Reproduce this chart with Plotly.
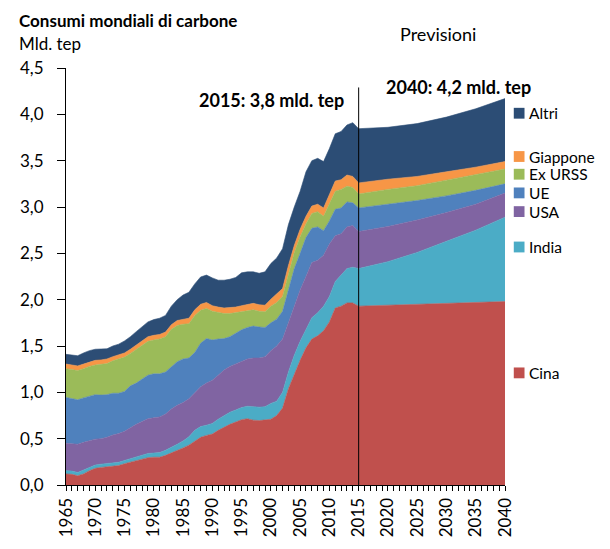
import plotly.graph_objects as go

# ---------------- data ----------------
years = list(range(1965, 2016)) + [2020, 2025, 2030, 2035, 2040]

cina = [0.12, 0.115, 0.10, 0.12, 0.155, 0.18, 0.19, 0.195, 0.20, 0.21,
        0.23, 0.245, 0.26, 0.28, 0.295, 0.30, 0.30, 0.32, 0.345, 0.375,
        0.40, 0.43, 0.475, 0.515, 0.535, 0.55, 0.59, 0.625, 0.655, 0.68,
        0.705, 0.715, 0.70, 0.695, 0.70, 0.71, 0.75, 0.83, 1.04, 1.20,
        1.345, 1.48, 1.575, 1.61, 1.665, 1.76, 1.91, 1.93, 1.965, 1.965,
        1.93,
        1.94, 1.95, 1.96, 1.97, 1.98]

india = [0.035, 0.035, 0.035, 0.04, 0.035, 0.035, 0.035, 0.035, 0.04, 0.035,
         0.035, 0.04, 0.04, 0.045, 0.045, 0.045, 0.05, 0.055, 0.06, 0.065,
         0.075, 0.09, 0.115, 0.115, 0.11, 0.115, 0.12, 0.125, 0.13, 0.13,
         0.13, 0.135, 0.145, 0.145, 0.145, 0.17, 0.155, 0.17, 0.18, 0.20,
         0.205, 0.20, 0.23, 0.25, 0.265, 0.275, 0.285, 0.335, 0.37, 0.385,
         0.405,
         0.47, 0.56, 0.67, 0.78, 0.91]

usa = [0.295, 0.295, 0.305, 0.30, 0.29, 0.28, 0.275, 0.285, 0.30, 0.31,
       0.315, 0.335, 0.355, 0.36, 0.375, 0.38, 0.385, 0.39, 0.415, 0.42,
       0.415, 0.41, 0.41, 0.43, 0.455, 0.465, 0.475, 0.49, 0.495, 0.495,
       0.50, 0.51, 0.525, 0.53, 0.54, 0.57, 0.595, 0.575, 0.53, 0.53,
       0.555, 0.57, 0.595, 0.565, 0.55, 0.565, 0.495, 0.445, 0.45, 0.45,
       0.40,
       0.38, 0.35, 0.31, 0.28, 0.26]

ue = [0.495, 0.49, 0.48, 0.48, 0.48, 0.48, 0.47, 0.46, 0.45, 0.435,
      0.43, 0.45, 0.445, 0.455, 0.47, 0.475, 0.465, 0.455, 0.45, 0.47,
      0.47, 0.44, 0.43, 0.47, 0.48, 0.435, 0.39, 0.34, 0.32, 0.335,
      0.34, 0.34, 0.345, 0.335, 0.315, 0.30, 0.29, 0.30, 0.355, 0.405,
      0.395, 0.42, 0.37, 0.36, 0.265, 0.25, 0.285, 0.28, 0.27, 0.245,
      0.255,
      0.24, 0.21, 0.18, 0.15, 0.10]

ex_urss = [0.31, 0.31, 0.315, 0.315, 0.32, 0.32, 0.33, 0.335, 0.35, 0.37,
           0.37, 0.35, 0.365, 0.37, 0.365, 0.365, 0.375, 0.38, 0.41, 0.39,
           0.375, 0.37, 0.40, 0.355, 0.325, 0.31, 0.285, 0.27, 0.25, 0.22,
           0.195, 0.18, 0.175, 0.17, 0.17, 0.18, 0.18, 0.16, 0.175, 0.175,
           0.18, 0.15, 0.16, 0.165, 0.155, 0.195, 0.195, 0.20, 0.17, 0.165,
           0.15,
           0.16, 0.16, 0.17, 0.17, 0.16]

giappone = [0.05, 0.05, 0.05, 0.05, 0.045, 0.05, 0.05, 0.05, 0.045, 0.045,
            0.045, 0.045, 0.045, 0.045, 0.05, 0.05, 0.05, 0.05, 0.05, 0.055,
            0.055, 0.06, 0.06, 0.065, 0.065, 0.06, 0.06, 0.06, 0.065, 0.06,
            0.065, 0.07, 0.07, 0.07, 0.07, 0.075, 0.09, 0.085, 0.09, 0.075,
            0.08, 0.08, 0.08, 0.08, 0.09, 0.09, 0.11, 0.105, 0.12, 0.12,
            0.12,
            0.11, 0.10, 0.09, 0.08, 0.08]

altri = [0.105, 0.11, 0.11, 0.12, 0.125, 0.12, 0.115, 0.11, 0.115, 0.115,
         0.13, 0.135, 0.145, 0.155, 0.16, 0.17, 0.175, 0.18, 0.20, 0.225,
         0.26, 0.28, 0.28, 0.295, 0.295, 0.30, 0.29, 0.30, 0.305, 0.32,
         0.355, 0.35, 0.34, 0.34, 0.36, 0.385, 0.39, 0.43, 0.44, 0.415,
         0.41, 0.48, 0.49, 0.495, 0.50, 0.495, 0.51, 0.52, 0.54, 0.58,
         0.585,
         0.56, 0.57, 0.59, 0.63, 0.68]

series_names = ["Cina", "India", "USA", "UE", "Ex URSS", "Giappone", "Altri"]
series_values = [cina, india, usa, ue, ex_urss, giappone, altri]
series_colors = ["#C0504D", "#4BACC6", "#8064A2", "#4F81BD",
                 "#9BBB59", "#F79646", "#2C4D75"]

x_tick_years = list(range(1965, 2041, 5))
y_ticks = [0, 0.5, 1.0, 1.5, 2.0, 2.5, 3.0, 3.5, 4.0, 4.5]

title_text = "Consumi mondiali di carbone"
unit_text = "Mld. tep"
forecast_text = "Previsioni"
note_2015 = "2015: 3,8 mld. tep"
note_2040 = "2040: 4,2 mld. tep"
forecast_start = 2015

# ---------------- layout geometry ----------------
OFF = 8                      # page body margin of the browser
W, H = 610 - OFF, 549 - OFF
L, R, T, B = 55 - OFF, 105, 68 - OFF, 57
PW, PH = W - L - R, H - T - B
FONT = "Lato"


def px(x, y):
    """window pixel -> paper coordinates"""
    return (x - OFF - L) / PW, (H - B - (y - OFF)) / PH


fig = go.Figure()
for name, vals, col in zip(series_names, series_values, series_colors):
    fig.add_trace(go.Scatter(
        x=years, y=vals, name=name, mode="lines", stackgroup="one",
        line=dict(width=0.6, color=col), fillcolor=col,
        showlegend=False, hoverinfo="x+y+name"))

annotations = []
shapes = []


def text(x, y, s, size=16, bold=False, xanchor="left", yanchor="middle"):
    xp, yp = px(x, y)
    annotations.append(dict(
        x=xp, y=yp, xref="paper", yref="paper", showarrow=False,
        text=f"<b>{s}</b>" if bold else s, xanchor=xanchor, yanchor=yanchor,
        borderpad=0,
        font=dict(family=FONT, size=size, color="black")))


text(6, 8.5, title_text, size=17, bold=True, yanchor="top")
text(6, 43, unit_text, size=17)
text(436, 33, forecast_text, size=18, xanchor="center")
text(341, 101, note_2015, size=18, bold=True, xanchor="right")
text(382, 87, note_2040, size=18, bold=True)

# legend (custom positions next to the layers)
legend_y = {"Altri": 114, "Giappone": 158, "Ex URSS": 176, "UE": 195,
            "USA": 214, "India": 250, "Cina": 378}
for name, col in zip(series_names, series_colors):
    yc = legend_y[name]
    x0, y0 = px(514, yc + 5.5)
    x1, y1 = px(525, yc - 5.5)
    shapes.append(dict(type="rect", xref="paper", yref="paper",
                       x0=x0, x1=x1, y0=y0, y1=y1,
                       fillcolor=col, line=dict(width=0)))
    text(529, yc, name, size=15.5)

# forecast separator line
shapes.append(dict(type="line", xref="x", yref="y",
                   x0=forecast_start, x1=forecast_start, y0=0, y1=4.29,
                   line=dict(color="black", width=1)))

fig.update_layout(
    width=W, height=H,
    margin=dict(l=L, r=R, t=T, b=B, pad=0),
    paper_bgcolor="white", plot_bgcolor="white",
    separators=",.",
    font=dict(family=FONT, size=15, color="black"),
    annotations=annotations, shapes=shapes,
    xaxis=dict(range=[1965, 2040], tickvals=x_tick_years,
               ticktext=[str(v) for v in x_tick_years],
               tickangle=-90, ticks="outside", ticklen=5, tickcolor="black",
               showline=True, linecolor="black", linewidth=1,
               showgrid=False, zeroline=False,
               tickfont=dict(family=FONT, size=17),
               minor=dict(dtick=1, tick0=1965, ticks="outside", ticklen=5,
                          tickcolor="black", showgrid=False)),
    yaxis=dict(range=[0, 4.5], tickvals=y_ticks, tickformat=".1f",
               ticks="outside", ticklen=8, tickcolor="black",
               showline=True, linecolor="black", linewidth=1,
               showgrid=False, zeroline=False,
               ticklabelstandoff=10,
               tickfont=dict(family=FONT, size=17)),
)

fig.write_html("out.html")
